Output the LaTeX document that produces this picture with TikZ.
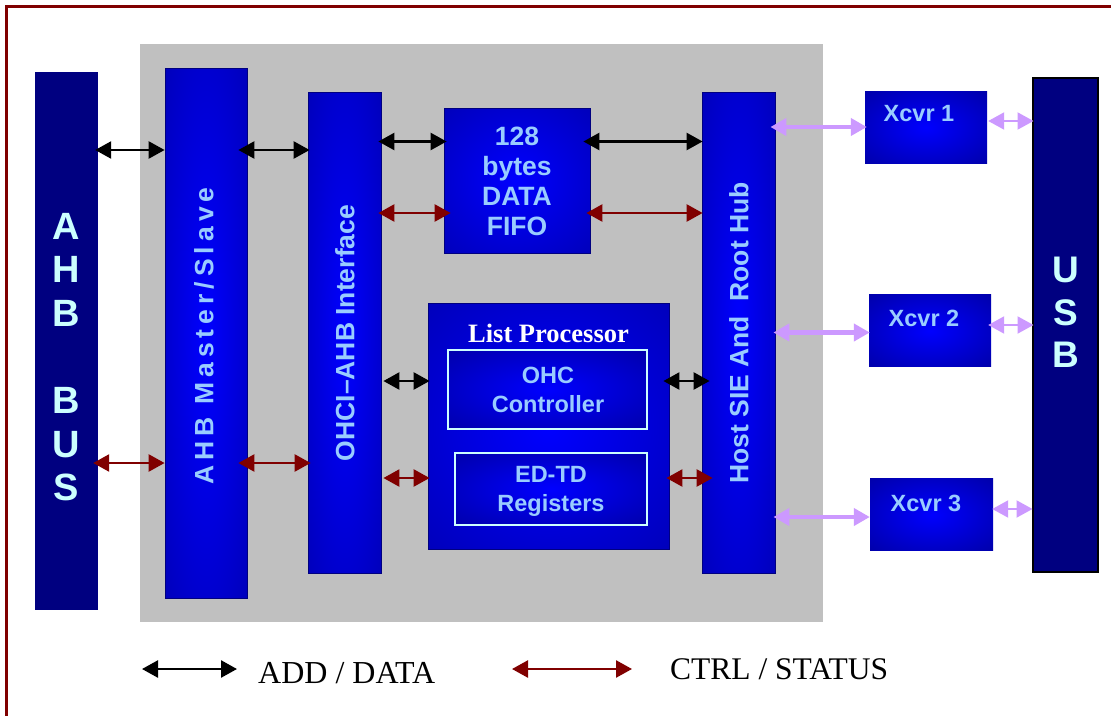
\documentclass[tikz,border=0pt]{standalone}
\usepackage{fontspec}
\setmainfont{Liberation Serif}
\newfontfamily\ab{Liberation Sans}
\newfontfamily\abls{Liberation Sans}[LetterSpace=19]
\usetikzlibrary{arrows.meta,calc}
\definecolor{bxin}{HTML}{0000FF}
\definecolor{bxout}{HTML}{0000A0}
\definecolor{bxoutd}{HTML}{000088}
\definecolor{navy}{HTML}{000080}
\definecolor{dred}{HTML}{800000}
\definecolor{lav}{HTML}{CC99FF}
\definecolor{lblue}{HTML}{99CCFF}
\definecolor{lcyan}{HTML}{CCFFFF}
\definecolor{panelgray}{HTML}{C0C0C0}
\pgfdeclareradialshading{glow}{\pgfpoint{0bp}{0bp}}{color(0bp)=(bxin); color(50bp)=(bxout)}
\pgfdeclareradialshading{glowx}{\pgfpoint{0bp}{0bp}}{color(0bp)=(bxin); color(50bp)=(bxoutd)}
\tikzset{
  bbox/.style={draw=navy, line width=0.8pt, shading=glow, inner sep=0pt, rectangle},
  xbox/.style={draw=none, shading=glowx, inner sep=0pt, rectangle, minimum width=122pt, minimum height=72pt},
  ibox/.style={draw=lcyan, line width=2pt, shading=glowx, inner sep=0pt, rectangle},
  nbox/.style={fill=navy, inner sep=0pt, rectangle},
  btxt/.style={text=lblue, font=\ab\bfseries\fontsize{26.5}{30}\selectfont, inner sep=0pt, align=center},
  xtxt/.style={text=lblue, font=\ab\bfseries\fontsize{23.5}{28}\selectfont, inner sep=0pt},
  itxt/.style={text=lblue, font=\ab\bfseries\fontsize{23.5}{29}\selectfont, inner sep=0pt, align=center},
  ctxt/.style={text=lcyan, font=\ab\bfseries\fontsize{38}{43.6}\selectfont, inner sep=0pt, align=center},
  ablk/.style={{Triangle[length=16pt,width=17pt]}-{Triangle[length=16pt,width=17pt]}, line width=2.5pt, black},
  ared/.style={{Triangle[length=16pt,width=17pt]}-{Triangle[length=16pt,width=17pt]}, line width=2.5pt, dred},
  apur/.style={{Triangle[length=16pt,width=17pt]}-{Triangle[length=16pt,width=17pt]}, line width=4.5pt, lav},
  apurs/.style={{Triangle[length=16pt,width=17pt]}-{Triangle[length=16pt,width=17pt]}, line width=2pt, lav},
  legtxt/.style={font=\fontsize{32}{36}\selectfont, inner sep=0pt, anchor=base west},
}
\begin{document}
\begin{tikzpicture}[x=1pt,y=-1pt]
\useasboundingbox (0,0) rectangle (1111,715);
\clip (0,0) rectangle (1111,715);
\fill[white] (0,0) rectangle (1111,715);
% frame
\draw[dred, line width=3pt] (1130,6.5) -- (6.5,6.5) -- (6.5,730);
% grey panel
\fill[panelgray] (140,44) rectangle (823,622);

% blocks
\node[nbox, minimum width=63pt, minimum height=538pt] (ahb) at (66.5,341) {};
\node[ctxt] (ahbt) at (66.5,357) {A\\H\\B\\[43.6pt]B\\U\\S};

\node[bbox, minimum width=82pt, minimum height=530pt] (master) at (206,333) {};
\node[text=lblue, font=\abls\bfseries\fontsize{26.5}{30}\selectfont, inner sep=0pt, rotate=90] (mastert) at (204,336) {AHB Master/Slave};

\node[bbox, minimum width=73pt, minimum height=481pt] (ohci) at (344.5,332.5) {};
\node[btxt, rotate=90] (ohcit) at (345,333) {OHCI–AHB Interface};

\node[bbox, minimum width=146pt, minimum height=145pt] (fifo) at (517,180.5) {};
\node[btxt] (fifot) at (517,181) {128\\bytes\\DATA\\FIFO};

\node[bbox, minimum width=241pt, minimum height=246pt] (lp) at (548.5,426) {};
\node[text=white, font=\bfseries\fontsize{26.5}{30}\selectfont, inner sep=0pt] (lpt) at (548.5,333) {List Processor};
\node[ibox, minimum width=199pt, minimum height=79pt] (ohc) at (547.5,389.5) {};
\node[itxt] (ohct) at (548,390) {OHC\\Controller};
\node[ibox, minimum width=192pt, minimum height=72pt] (edtd) at (551,489) {};
\node[itxt] (edtdt) at (551,491.5) {ED-TD\\Registers};

\node[bbox, minimum width=73pt, minimum height=481pt] (host) at (738.5,332.5) {};
\node[btxt, rotate=90] (hostt) at (739,333) {Host SIE And~~Root Hub};

\node[xbox] (x1) at (926,127.5) {};
\node[xtxt] (x1t) at (919,114) {Xcvr 1};
\node[xbox] (x2) at (930,330.5) {};
\node[xtxt] (x2t) at (924,318) {Xcvr 2};
\node[xbox, minimum width=123pt] (x3) at (931.5,514.5) {};
\node[xtxt] (x3t) at (926,503) {Xcvr 3};

\node[nbox, draw=black, line width=2pt, minimum width=65pt, minimum height=494pt] (usb) at (1065,325) {};
\node[ctxt, font=\ab\bfseries\fontsize{37}{42.5}\selectfont] (usbt) at (1066,312.5) {U\\S\\B};

% row levels
\coordinate (r1) at (0,150);
\coordinate (r2) at (0,141.5);
\coordinate (r3) at (0,213);
\coordinate (r4) at (0,381);
\coordinate (r5) at (0,463);
\coordinate (r6) at (0,478);
\coordinate (p1) at (0,127);
\coordinate (p2) at (0,332.5);
\coordinate (p3) at (0,517);
\coordinate (q1) at (0,121);
\coordinate (q2) at (0,325);
\coordinate (q3) at (0,509);

% ADD / DATA connectors
\draw[ablk] ([xshift=-3pt]ahb.east |- r1) -- (master.west |- r1);
\draw[ablk] ([xshift=-9pt]master.east |- r1) -- ([xshift=2pt]ohci.west |- r1);
\draw[ablk] ([xshift=-3pt]ohci.east |- r2) -- ([xshift=3pt]fifo.west |- r2);
\draw[ablk] ([xshift=-7pt]fifo.east |- r2) -- ([xshift=1pt]host.west |- r2);
\draw[ablk] ([xshift=2pt]ohci.east |- r4) -- ([xshift=2pt]lp.west |- r4);
\draw[ablk] ([xshift=-6pt]lp.east |- r4) -- ([xshift=8pt]host.west |- r4);
% CTRL / STATUS connectors
\draw[ared] ([xshift=-5pt]ahb.east |- r5) -- (master.west |- r5);
\draw[ared] ([xshift=-9pt]master.east |- r5) -- ([xshift=3pt]ohci.west |- r5);
\draw[ared] ([xshift=-3pt]ohci.east |- r3) -- ([xshift=7pt]fifo.west |- r3);
\draw[ared] ([xshift=-4pt]fifo.east |- r3) -- ([xshift=1pt]host.west |- r3);
\draw[ared] ([xshift=2pt]ohci.east |- r6) -- ([xshift=2pt]lp.west |- r6);
\draw[ared] ([xshift=-3pt]lp.east |- r6) -- ([xshift=11pt]host.west |- r6);
% USB connectors
\draw[apur] ([xshift=-5pt]host.east |- p1) -- ([xshift=2pt]x1.west |- p1);
\draw[apur] ([xshift=-2pt]host.east |- p2) -- ([xshift=1pt]x2.west |- p2);
\draw[apur] ([xshift=-2pt]host.east |- p3) -- (x3.west |- p3);
\draw[apurs] ([xshift=1pt]x1.east |- q1) -- ([xshift=2pt]usb.west |- q1);
\draw[apurs] ([xshift=-3pt]x2.east |- q2) -- ([xshift=2pt]usb.west |- q2);
\draw[apurs] ([xshift=-1pt]x3.east |- q3) -- ([xshift=1pt]usb.west |- q3);

% legend
\coordinate (lb1) at (142,669);
\coordinate (lb2) at (237,669);
\coordinate (lr1) at (512,669);
\coordinate (lr2) at (632,669);
\draw[ablk] (lb1) -- (lb2);
\draw[ared] (lr1) -- (lr2);
\node[legtxt] (leg1) at (258,683) {ADD / DATA};
\node[legtxt, font=\fontsize{31.5}{36}\selectfont] (leg2) at (670,679) {CTRL / STATUS};
\end{tikzpicture}
\end{document}
